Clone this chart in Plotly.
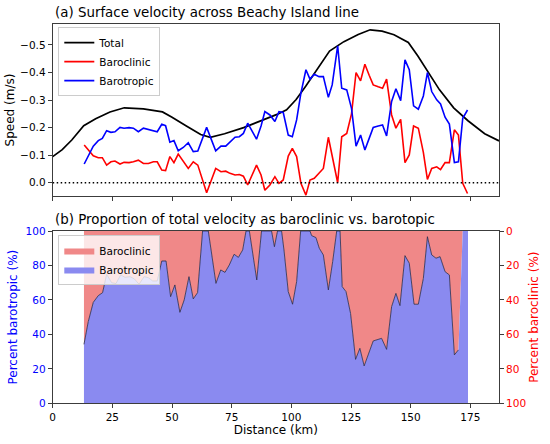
import plotly.graph_objects as go

# (a) surface velocity, m/s (negative = up on the reversed axis)
dist_total = [0, 4, 8, 13, 18, 24, 30, 38, 46, 50, 56, 62, 66, 72, 80, 88, 94, 98,
              102, 106, 111, 116, 122, 128, 133, 138, 143, 149, 153, 157, 162, 168,
              174, 181, 187]
total = [-0.095, -0.12, -0.155, -0.207, -0.232, -0.257, -0.272, -0.268, -0.257, -0.238,
         -0.206, -0.175, -0.165, -0.178, -0.200, -0.228, -0.248, -0.265, -0.302, -0.350,
         -0.414, -0.478, -0.512, -0.538, -0.555, -0.550, -0.537, -0.509, -0.46, -0.406,
         -0.338, -0.272, -0.225, -0.178, -0.152]

dist = [13.2, 15.3, 17.0, 19.1, 20.8, 22.6, 24.4, 26.1, 28.2, 29.9, 32.0, 33.8, 35.9,
        38.0, 40.1, 42.2, 43.8, 45.7, 47.3, 49.1, 50.8, 52.6, 54.7, 56.8, 58.9, 60.8,
        64.5, 68.3, 70.5, 72.5, 74.3, 76.4, 78.2, 79.9, 81.7, 83.6, 85.4, 87.3, 88.9,
        91.0, 93.1, 94.8, 96.6, 98.7, 100.4, 102.2, 104.0, 106.1, 107.8, 109.6, 111.6,
        113.4, 115.5, 117.1, 119.4, 121.1, 123.2, 125.2, 127.1, 129.0, 130.8, 132.6,
        134.3, 136.4, 138.2, 139.9, 142.0, 143.8, 145.8, 147.6, 149.4, 151.2, 153.2,
        155.3, 157.0, 158.8, 160.9, 162.5, 164.4, 166.2, 168.3, 170.0, 171.8, 173.8]

barotropic = [-0.068, -0.107, -0.133, -0.153, -0.161, -0.189, -0.183, -0.185, -0.201,
              -0.198, -0.200, -0.198, -0.185, -0.198, -0.194, -0.188, -0.185, -0.212,
              -0.207, -0.147, -0.153, -0.116, -0.128, -0.145, -0.113, -0.115, -0.201,
              -0.116, -0.133, -0.133, -0.147, -0.165, -0.167, -0.179, -0.216, -0.185,
              -0.158, -0.206, -0.258, -0.246, -0.222, -0.258, -0.255, -0.173, -0.167,
              -0.228, -0.325, -0.410, -0.376, -0.394, -0.385, -0.385, -0.310, -0.355,
              -0.497, -0.343, -0.337, -0.270, -0.133, -0.173, -0.119, -0.161, -0.201,
              -0.206, -0.210, -0.170, -0.295, -0.341, -0.298, -0.446, -0.410, -0.279,
              -0.267, -0.315, -0.400, -0.331, -0.301, -0.286, -0.238, -0.213, -0.073,
              -0.076, -0.234, -0.264]

baroclinic = [-0.137, -0.115, -0.098, -0.091, -0.091, -0.064, -0.076, -0.079, -0.068,
              -0.074, -0.073, -0.076, -0.082, -0.070, -0.070, -0.076, -0.076, -0.046,
              -0.044, -0.095, -0.073, -0.104, -0.076, -0.052, -0.076, -0.064, 0.036,
              -0.052, -0.040, -0.042, -0.034, -0.028, -0.030, -0.024, 0.008, -0.032,
              -0.064, -0.028, 0.027, 0.008, -0.022, 0.002, -0.010, -0.097, -0.125,
              -0.095, 0.002, 0.045, -0.010, -0.016, -0.036, -0.052, -0.165, -0.095,
              0.000, -0.167, -0.179, -0.250, -0.400, -0.370, -0.430, -0.390, -0.355,
              -0.348, -0.343, -0.376, -0.246, -0.198, -0.230, -0.073, -0.101, -0.206,
              -0.198, -0.110, -0.012, -0.052, -0.058, -0.048, -0.073, -0.073, -0.192,
              -0.173, 0.002, 0.039]

# (b) share of total velocity that is barotropic, %
dist_pct = [13.1, 14.9, 17.0, 19.1, 20.9, 22.6, 24.7, 26.5, 28.5, 30.3, 32.4, 34.2, 36.2,
            38.3, 40.1, 41.9, 43.8, 45.7, 47.5, 49.4, 51.2, 53.3, 55.1, 57.1, 58.9, 60.7,
            62.8, 65.2, 68.4, 70.4, 72.2, 74.0, 76.0, 77.8, 79.6, 81.0, 82.4, 85.5, 87.5,
            91.7, 92.9, 94.2, 95.9, 96.9, 98.7, 100.5, 102.2, 103.9, 107.8, 108.5, 110.3,
            111.7, 113.4, 115.5, 117.3, 119.0, 120.4, 121.3, 122.9, 124.8, 126.9, 128.7,
            130.5, 134.3, 137.8, 139.9, 142.0, 143.8, 145.5, 147.6, 149.4, 151.4, 153.2,
            155.3, 157.0, 158.8, 160.6, 162.3, 164.4, 166.2, 168.3, 170.0, 171.8, 174.0]
pct_barotropic = [34.2, 47.4, 58.6, 62.5, 64.2, 74.9, 70.0, 69.5, 74.5, 73.1, 73.5, 72.2,
                  69.1, 73.5, 72.9, 71.0, 71.0, 82.6, 82.6, 61.9, 68.7, 52.8, 60.0, 73.5,
                  60.6, 64.2, 100, 100, 69.6, 77.4, 76.0, 80.3, 86.5, 84.7, 89.0, 100, 100,
                  71.6, 100, 100, 90.9, 100, 100, 89.0, 64.8, 57.5, 70.6, 100, 100, 97.3,
                  96.2, 90.0, 86.1, 65.8, 82.2, 100, 100, 67.7, 64.8, 52.2, 25.5, 31.9,
                  21.7, 36.2, 37.7, 31.3, 56.1, 63.8, 56.7, 85.7, 81.3, 57.5, 57.5, 72.5,
                  96.7, 86.1, 84.2, 85.1, 76.4, 74.5, 28.1, 31.0, 100, 100]
pct_top = [100] * len(dist_pct)

FONT = "DejaVu Sans"
frame = "rgb(60,60,60)"

fig = go.Figure()

fig.add_trace(go.Scatter(x=dist_total, y=total, mode="lines", name="Total",
                         line=dict(color="black", width=1.7)))
fig.add_trace(go.Scatter(x=dist, y=baroclinic, mode="lines", name="Baroclinic",
                         line=dict(color="red", width=1.6)))
fig.add_trace(go.Scatter(x=dist, y=barotropic, mode="lines", name="Barotropic",
                         line=dict(color="blue", width=1.6)))

fig.add_trace(go.Scatter(x=dist_pct, y=pct_top, mode="lines", line=dict(width=0),
                         showlegend=False, hoverinfo="skip", xaxis="x2", yaxis="y2"))
fig.add_trace(go.Scatter(x=dist_pct, y=pct_barotropic, mode="lines", fill="tonexty",
                         fillcolor="rgb(240,136,136)", line=dict(width=0),
                         name="Baroclinic", legend="legend2", xaxis="x2", yaxis="y2"))
fig.add_trace(go.Scatter(x=dist_pct, y=pct_barotropic, mode="lines", fill="tozeroy",
                         fillcolor="rgb(138,138,240)", line=dict(width=0),
                         name="Barotropic", legend="legend2", xaxis="x2", yaxis="y2"))
fig.add_trace(go.Scatter(x=dist_pct[:-2], y=pct_barotropic[:-2], mode="lines",
                         line=dict(color="rgb(40,40,70)", width=0.8),
                         showlegend=False, xaxis="x2", yaxis="y2"))
fig.add_trace(go.Scatter(x=[None], y=[None], showlegend=False, xaxis="x2", yaxis="y3"))

fig.add_shape(type="line", xref="x", yref="y", x0=0, x1=187, y0=0, y1=0,
              line=dict(color="black", width=1.5, dash="1.5px,2.5px"))

xdom = [0.0958, 0.9073]
axis_common = dict(showline=True, linecolor=frame, linewidth=1, mirror=True,
                   ticks="outside", ticklen=4, tickwidth=1, tickcolor=frame,
                   showgrid=False, zeroline=False, automargin=False,
                   tickfont=dict(family=FONT, size=10.5, color="black"))

fig.update_layout(
    width=550, height=444,
    margin=dict(l=0, r=0, t=0, b=0, autoexpand=False),
    plot_bgcolor="white", paper_bgcolor="white",
    font=dict(family=FONT, color="black"),
    xaxis=dict(domain=xdom, range=[0, 187], tickvals=list(range(0, 176, 25)),
               showticklabels=False, anchor="y", **axis_common),
    yaxis=dict(domain=[0.5586, 0.9459], range=[0.048, -0.576],
               tickvals=[-0.5, -0.4, -0.3, -0.2, -0.1, 0.0],
               ticktext=["\u22120.5", "\u22120.4", "\u22120.3", "\u22120.2", "\u22120.1", "0.0"],
               title=dict(text="Speed (m/s)", font=dict(family=FONT, size=12), standoff=2),
               anchor="x", **axis_common),
    xaxis2=dict(domain=xdom, range=[0, 187], tickvals=list(range(0, 176, 25)),
                title=dict(text="Distance (km)", font=dict(family=FONT, size=12), standoff=3),
                anchor="y2", **axis_common),
    yaxis2=dict(domain=[0.0917, 0.4797], range=[0, 100], tickvals=list(range(0, 101, 20)),
                title=dict(text="Percent barotropic (%)",
                           font=dict(family=FONT, size=12, color="blue"), standoff=5),
                anchor="x2", **{**axis_common,
                                "tickfont": dict(family=FONT, size=10.5, color="blue")}),
    yaxis3=dict(overlaying="y2", side="right", anchor="x2", range=[100, 0],
                tickvals=list(range(0, 101, 20)), showline=False, showgrid=False,
                zeroline=False, ticks="outside", ticklen=4, tickwidth=1, tickcolor=frame,
                automargin=False,
                tickfont=dict(family=FONT, size=10.5, color="red"),
                title=dict(text="Percent baroclinic (%)",
                           font=dict(family=FONT, size=12, color="red"), standoff=4)),
    legend=dict(x=0.106, y=0.939, xanchor="left", yanchor="top",
                bgcolor="rgba(255,255,255,0.85)", bordercolor="#cccccc", borderwidth=1,
                font=dict(family=FONT, size=10.5), itemwidth=30, tracegroupgap=0),
    legend2=dict(x=0.106, y=0.4707, xanchor="left", yanchor="top", traceorder="normal",
                 bgcolor="rgba(255,255,255,0.8)", bordercolor="#cccccc", borderwidth=1,
                 font=dict(family=FONT, size=10.5), itemwidth=30),
    annotations=[
        dict(text="(a) Surface velocity across Beachy Island line", xref="paper",
             yref="paper", x=xdom[0], y=0.9459, xanchor="left", yanchor="bottom",
             yshift=2, showarrow=False, font=dict(family=FONT, size=13.4)),
        dict(text="(b) Proportion of total velocity as baroclinic vs. barotopic",
             xref="paper", yref="paper", x=xdom[0], y=0.4797, xanchor="left",
             yanchor="bottom", yshift=2, showarrow=False,
             font=dict(family=FONT, size=13.4)),
    ],
)

fig.write_html("out.html", config={"displayModeBar": False},
               post_script="document.body.style.margin='0';")
